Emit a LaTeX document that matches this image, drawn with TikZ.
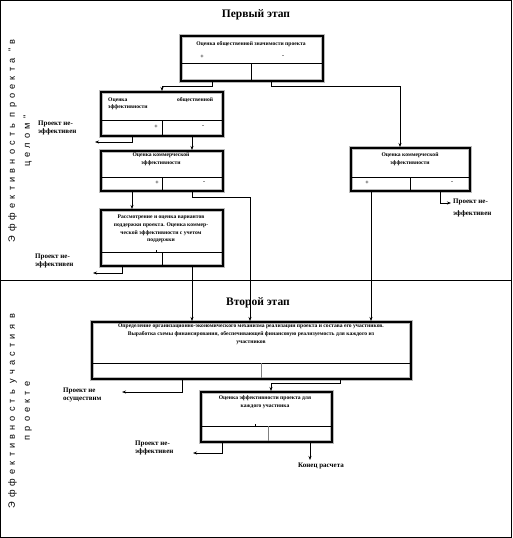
\documentclass[tikz,border=0pt]{standalone}
\usepackage{fontspec}
\setmainfont{Liberation Serif}
\newfontfamily\vfont[LetterSpace=45]{Liberation Sans}
\usetikzlibrary{arrows.meta}
\begin{document}
\begin{tikzpicture}[x=1pt,y=-1pt,
  box/.style={draw=black, line width=2.4pt, preaction={draw=gray!55, line width=3.8pt}, inner sep=0pt, anchor=north west},
  dv/.style={line width=0.7pt},
  conn/.style={line width=0.6pt},
  arr/.style={line width=0.6pt, -{Stealth[length=4pt,width=3pt]}},
  bt/.style={font=\bfseries\fontsize{5.6}{7.6}\selectfont, align=center, inner sep=0pt},
  pm/.style={font=\bfseries\fontsize{6}{7}\selectfont, inner sep=0pt},
  lab/.style={font=\bfseries\fontsize{7}{8}\selectfont, align=left, inner sep=0pt, anchor=north west},
  ttl/.style={font=\bfseries\fontsize{11.5}{13}\selectfont, inner sep=0pt},
  vt/.style={font=\vfont\fontsize{9.2}{15}\selectfont, rotate=90, align=center, inner sep=0pt}]
\useasboundingbox (0,0) rectangle (512,538);
\draw[line width=0.8pt] (0.5,0.5) rectangle (511.5,537.5);
\draw[line width=0.8pt] (0,280) -- (512,280);

% titles
\node[ttl] (s1) at (256,15) {Первый этап};
\node[ttl] (s2) at (258,303) {Второй этап};

% vertical texts
\node[vt] (v1) at (20,141) {Эффективность проекта "в\\целом"};
\node[vt] (v2) at (20,411) {Эффективность участия в\\проекте};

% boxes
\node[box, minimum width=142pt, minimum height=45pt] (b1) at (180,35) {};
\draw[dv] (180,63) -- (322,63) (251,63) -- (251,80);
\node[bt] (t1) at (251,44) {Оценка общественной значимости проекта};
\node[pm] (p1) at (202,57) {+};
\node[pm] (m1) at (283,57) {-};

\node[box, minimum width=122pt, minimum height=44pt] (b2) at (100,91) {};
\draw[dv] (100,120) -- (222,120) (162,120) -- (162,135);
\node[bt, align=left, anchor=north west] (t2) at (108,97) {\makebox[105pt][s]{Оценка\hfill общественной}\\эффективности};
\node[pm] (p2) at (156,127) {+};
\node[pm] (m2) at (203,127) {-};

\node[box, minimum width=122pt, minimum height=40pt] (b3) at (100,150) {};
\draw[dv] (100,177) -- (222,177) (162,177) -- (162,190);
\node[bt] (t3) at (161,159) {Оценка коммерческой\\эффективности};
\node[pm] (p3) at (157,183) {+};
\node[pm] (m3) at (204,183) {-};

\node[box, minimum width=119pt, minimum height=43pt] (bR) at (350,147) {};
\draw[dv] (350,177) -- (469,177) (410,177) -- (410,190);
\node[bt] (tR) at (410,159) {Оценка коммерческой\\эффективности};
\node[pm] (pR) at (367,183) {+};
\node[pm] (mR) at (452,183) {-};

\node[box, minimum width=122pt, minimum height=56pt] (b4) at (100,209) {};
\draw[dv] (100,252) -- (222,252) (162,252) -- (162,265) (156,250) -- (156,253);
\node[bt] (t4) at (161,229) {Рассмотрение и оценка вариантов\\поддержки проекта. Оценка коммер-\\ческой эффективности с учетом\\поддержки};

\node[box, minimum width=319pt, minimum height=57pt] (b6) at (91,321) {};
\draw[dv] (91,363) -- (410,363);
\draw[dv, draw=gray] (261,363) -- (261,378);
\node[bt, anchor=north] (t6) at (251,324) {Определение организационно-экономического механизма реализации проекта и состава его участников.\\Выработка схемы финансирования, обеспечивающей финансовую реализуемость для каждого из\\участников};

\node[box, minimum width=131pt, minimum height=50pt] (b5) at (200,391) {};
\draw[dv] (200,426) -- (331,426) (255,424) -- (255,426);
\draw[dv, draw=gray] (268,426) -- (268,441);
\node[bt] (t5) at (265,402) {Оценка эффективности проекта для\\каждого участника};

% labels
\node[lab] (n1) at (38,121) {Проект не-\\эффективен};
\node[lab, font=\bfseries\fontsize{7}{11.5}\selectfont] (n2) at (453,199) {Проект не-\\эффективен};
\node[lab] (n3) at (35,254) {Проект не-\\эффективен};
\node[lab] (n4) at (63,388) {Проект не\\осуществим};
\node[lab] (n5) at (135,441) {Проект не-\\эффективен};
\node[font=\bfseries\fontsize{7}{8}\selectfont, inner sep=0pt] (n6) at (321,466) {Конец расчета};

% end coordinates
\coordinate (e1) at (95,142);
\coordinate (e2) at (451,203);
\coordinate (e3) at (93,273);
\coordinate (e4) at (122,392);
\coordinate (e5) at (193,453);
\coordinate (e6) at (310,460);

% connectors
\draw[arr] (212,80) -- (212,86) -| (b2.north -| 162,0);
\draw[arr] (271,80) -- (271,86) -| (400,147);
\draw[arr] (132,135) -- (132,142) -- (e1);
\draw[arr] (192,135) -- (192,150);
\draw[arr] (132,190) -- (132,209);
\draw[arr] (192,190) -- (192,197) -| (250,321);
\draw[arr] (371,190) -- (371,321);
\draw[arr] (440,190) -- (440,203) -- (e2);
\draw[arr] (122,265) -- (122,273) -- (e3);
\draw[arr] (192,265) -- (192,321);
\draw[arr] (182,378) -- (182,392) -- (e4);
\draw[arr] (340,378) -- (340,383) -| (271,391);
\draw[arr] (222,441) -- (222,453) -- (e5);
\draw[arr] (310,441) -- (e6);
\end{tikzpicture}
\end{document}
